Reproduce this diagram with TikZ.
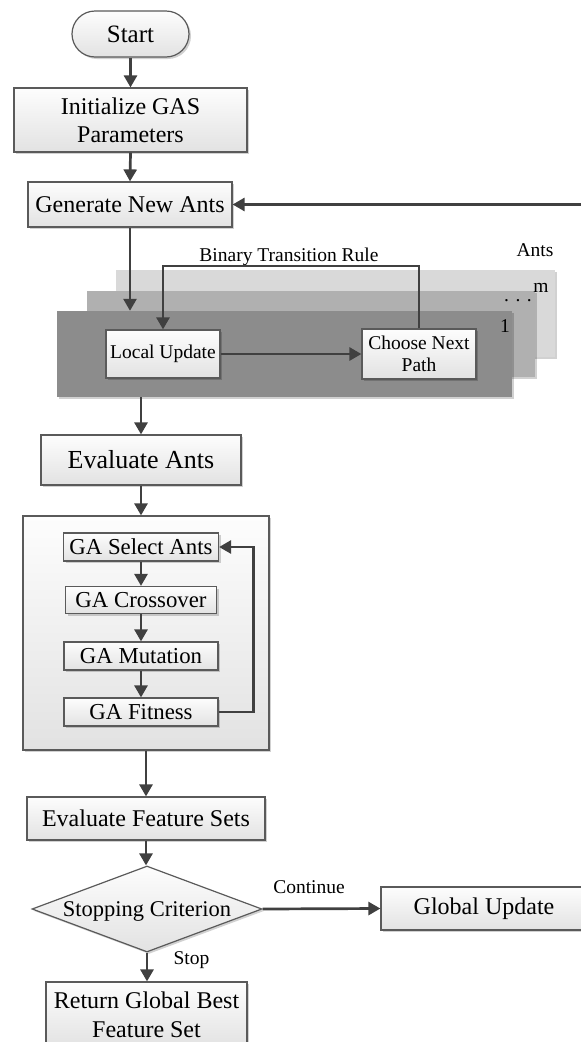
\documentclass[tikz,border=0pt]{standalone}
\usepackage{fontspec}
\setmainfont{Liberation Serif}
\usetikzlibrary{arrows.meta,shapes.geometric,shadows}
\definecolor{lineclr}{HTML}{404040}
\definecolor{edgeclr}{HTML}{5A5A5A}
\definecolor{panelA}{HTML}{D9D9D9}
\definecolor{panelB}{HTML}{B0B0B0}
\definecolor{panelC}{HTML}{8C8C8C}
\definecolor{boxtop}{HTML}{FDFDFD}
\definecolor{boxbot}{HTML}{E2E2E2}
\tikzset{
  arr/.style={draw=lineclr, line width=2.7pt, -{Triangle[length=12pt,width=13pt]}},
  boxshadow/.style={drop shadow={shadow xshift=2pt, shadow yshift=-2pt, fill=black, opacity=0.18}},
  box/.style={draw=edgeclr, line width=1.2pt, top color=boxtop, bottom color=boxbot,
              inner sep=0pt, align=center, boxshadow},
  panel/.style={draw=none, inner sep=0pt, boxshadow},
  big/.style={font=\fontsize{24}{28}\selectfont},
  mid/.style={font=\fontsize{22.8}{26}\selectfont},
  small/.style={font=\fontsize{19.5}{22.5}\selectfont},
}
\begin{document}
\begin{tikzpicture}[x=1pt,y=-1pt]
\useasboundingbox (0,0) rectangle (581,1042);
\fill[white] (0,0) rectangle (581,1042);
\clip (0,0) rectangle (581,1042);

% main chain
\node[box,minimum width=117pt,minimum height=46pt,rounded corners=23pt,
      font=\fontsize{25}{28}\selectfont] (start) at (130.5,34) {Start};
\node[box,big,minimum width=233pt,minimum height=64pt] (init) at (130.5,120) {Initialize GAS\\Parameters};
\node[box,big,minimum width=204pt,minimum height=45pt] (gen) at (130,204.5) {Generate New Ants};

% stacked ant panels
\node[panel,fill=panelA,minimum width=439pt,minimum height=87pt] (pback) at (335.5,313.5) {};
\node[panel,fill=panelB,minimum width=448pt,minimum height=86pt] (pmid) at (311,334) {};
\node[panel,fill=panelC,minimum width=455pt,minimum height=86pt] (front) at (284.5,354) {};
\node[small,anchor=base] (antslbl) at (535,256) {Ants};
\node[small,anchor=base] (mlbl) at (541,292) {m};
\node[small,anchor=base] (dots) at (518,301) {. . .};
\node[small,anchor=base] (onelbl) at (505,332) {1};

\node[box,small,minimum width=114pt,minimum height=48pt] (local) at (163,354) {Local Update};
\node[box,small,minimum width=114pt,minimum height=50pt] (choose) at (419,354) {Choose Next\\Path};
\coordinate (btr) at (289,266);
\node[small,anchor=base] (btrlbl) at (289,261) {Binary Transition Rule};

\node[box,minimum width=200pt,minimum height=50pt,
      font=\fontsize{26}{30}\selectfont] (evala) at (141,460) {Evaluate Ants};

% GA block
\node[box,minimum width=246pt,minimum height=234pt] (gaouter) at (146,633) {};
\node[box,mid,minimum width=155pt,minimum height=28pt] (gasel) at (141,547) {GA Select Ants};
\node[box,mid,minimum width=151pt,minimum height=27pt] (gacross) at (141,600) {GA Crossover};
\node[box,mid,minimum width=154pt,minimum height=28pt] (gamut) at (141,656) {GA Mutation};
\node[box,mid,minimum width=154pt,minimum height=28pt] (gafit) at (141,712) {GA Fitness};

\node[box,big,minimum width=238pt,minimum height=43pt] (evalf) at (146,818.5) {Evaluate Feature Sets};

% decision
\node[box,diamond,minimum width=230pt,minimum height=86pt] (stop) at (147,909) {};
\node[font=\fontsize{22.5}{26}\selectfont,anchor=base] (stoptxt) at (147,916) {Stopping Criterion};
\node[box,big,minimum width=206pt,minimum height=43pt] (global) at (484,908.5) {Global Update};
\node[box,minimum width=201pt,minimum height=66pt,
      font=\fontsize{24}{29}\selectfont] (ret) at (146.5,1015) {Return Global Best\\Feature Set};
\node[small,anchor=base] (contlbl) at (309,893) {Continue};
\node[small,anchor=base] (stoplbl) at (191.5,964) {Stop};

% connectors
\draw[arr] (start.south) -- (init.north);
\draw[arr] (init.south) -- (gen.north);
\draw[arr] (gen.south) -- (gen.south |- front.north);
\draw[arr] (choose.north) |- (btr) -| (local.north);
\draw[arr] (local.east) -- (choose.west);
\draw[arr] (evala.north |- front.south) -- (evala.north);
\draw[arr] (evala.south) -- (evala.south |- gaouter.north);
\draw[arr] (gasel.south) -- (gacross.north);
\draw[arr] (gacross.south) -- (gamut.north);
\draw[arr] (gamut.south) -- (gafit.north);
\draw[arr] (gafit.east) -- ++(35,0) |- (gasel.east);
\draw[arr] (gaouter.south) -- (evalf.north);
\draw[arr] (evalf.south) -- (evalf.south |- stop.north);
\draw[arr] (stop.east) -- (global.west);
\draw[arr] (stop.south) -- (stop.south |- ret.north);
\draw[arr] (global.east) -- ++(20,0) |- (gen.east);
\end{tikzpicture}
\end{document}
